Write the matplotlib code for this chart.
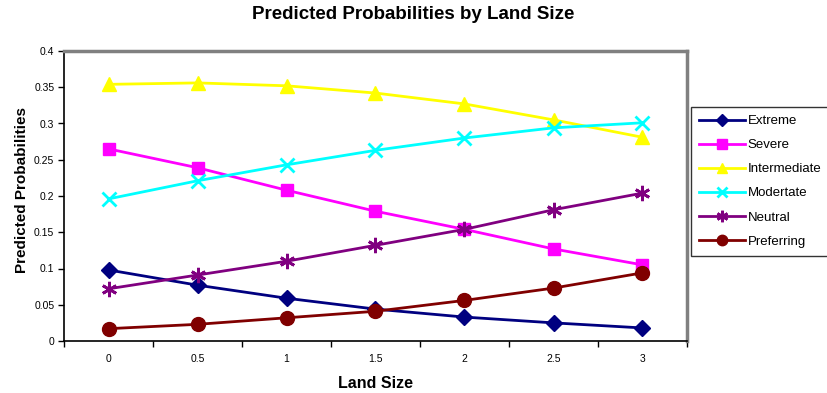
import matplotlib
matplotlib.use("Agg")
import matplotlib.pyplot as plt

plt.rcParams["font.family"] = ["Liberation Sans", "DejaVu Sans"]

land_size = ["0", "0.5", "1", "1.5", "2", "2.5", "3"]

extreme = [0.098, 0.077, 0.059, 0.044, 0.033, 0.025, 0.018]
severe = [0.265, 0.239, 0.208, 0.179, 0.154, 0.127, 0.105]
intermediate = [0.354, 0.356, 0.352, 0.342, 0.327, 0.305, 0.281]
modertate = [0.196, 0.221, 0.243, 0.263, 0.280, 0.294, 0.301]
neutral = [0.072, 0.091, 0.110, 0.132, 0.154, 0.181, 0.204]
preferring = [0.017, 0.023, 0.032, 0.041, 0.056, 0.073, 0.094]

series = [
    ("Extreme", extreme, "#000080", "D", 8),
    ("Severe", severe, "#ff00ff", "s", 9),
    ("Intermediate", intermediate, "#ffff00", "^", 10),
    ("Modertate", modertate, "#00ffff", "x", 10),
    ("Neutral", neutral, "#800080", (6, 2, 0), 11),
    ("Preferring", preferring, "#800000", "o", 10),
]

fig = plt.figure(figsize=(8.27, 3.93), dpi=100)
ax = fig.add_axes([64 / 827, 1 - 341 / 393, (687 - 64) / 827, (341 - 51) / 393])

xs = list(range(len(land_size)))
for name, vals, col, mk, ms in series:
    # thin-stroke markers (x and asterisk) need a heavier edge
    mew = 2.0 if mk == "x" or isinstance(mk, tuple) else 1.0
    ax.plot(xs, vals, color=col, linewidth=2, marker=mk, markersize=ms,
            markeredgewidth=mew, markeredgecolor=col, label=name)

ax.set_xlim(-0.5, len(land_size) - 0.5)
ax.set_ylim(0, 0.4)
ax.set_yticks([i * 0.05 for i in range(9)])
ax.set_yticklabels(["0", "0.05", "0.1", "0.15", "0.2", "0.25", "0.3", "0.35", "0.4"])
ax.set_xticks(xs)
ax.set_xticklabels(land_size)
# category boundaries carry the tick marks, centres carry the labels
ax.set_xticks([i - 0.5 for i in range(len(land_size) + 1)], minor=True)
ax.tick_params(axis="x", which="major", length=0, pad=9, labelsize=7.5)
ax.tick_params(axis="x", which="minor", length=4, direction="out", width=1)
ax.tick_params(axis="y", length=4, direction="out", width=1, labelsize=7.5, pad=3)

for side in ("top", "right"):
    ax.spines[side].set_color("#808080")
    ax.spines[side].set_linewidth(2.5)
for side in ("left", "bottom"):
    ax.spines[side].set_color("black")
    ax.spines[side].set_linewidth(1.2)

ax.set_xlabel("Land Size", fontsize=11.5, fontweight="bold", labelpad=9)
ax.set_ylabel("Predicted Probabilities", fontsize=11, fontweight="bold")
ax.yaxis.set_label_coords(-0.056, 0.52)
fig.suptitle("Predicted Probabilities by Land Size", x=413 / 827, y=1 - 6 / 393,
             fontsize=13.5, fontweight="bold", va="top")

leg = fig.legend(loc="upper left", bbox_to_anchor=(691 / 827, 1 - 107 / 393),
                 fontsize=9.5, frameon=True, fancybox=False, handlelength=3.5,
                 handletextpad=0.2, labelspacing=0.9, borderpad=0.6,
                 borderaxespad=0, markerscale=0.75)
leg.get_frame().set_edgecolor("black")
leg.get_frame().set_linewidth(1.0)

fig.savefig("out.png", dpi=100)
